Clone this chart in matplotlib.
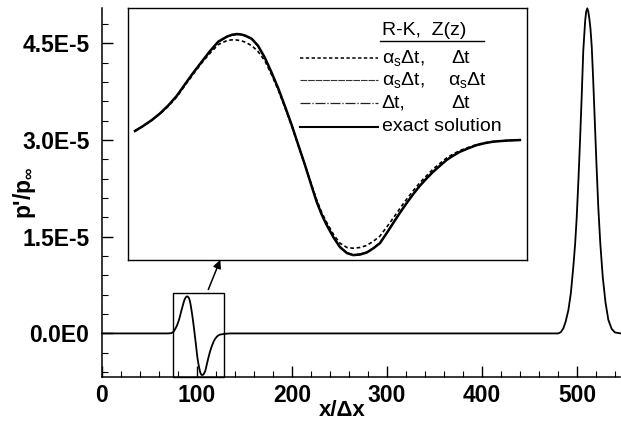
import matplotlib
matplotlib.use("Agg")
import matplotlib.pyplot as plt
from matplotlib.patches import Rectangle
from matplotlib.ticker import MultipleLocator, FixedLocator

plt.rcParams['font.family'] = ['Liberation Sans', 'DejaVu Sans']
plt.rcParams['mathtext.fontset'] = 'custom'
plt.rcParams['mathtext.rm'] = 'Liberation Sans'
plt.rcParams['mathtext.it'] = 'Liberation Sans'
plt.rcParams['mathtext.bf'] = 'Liberation Sans:bold'

SCALE = 1e-5

# ---- data (p'/p_inf values in units of 1e-5) ----
wave_x = [75.90, 77.0, 78.14, 79.25, 80.36, 81.5, 82.60, 83.7, 84.84, 85.95,
          87.06, 88.23, 88.9, 89.53, 90.1, 90.64, 91.54, 92.38, 93.32, 94.2,
          95.10, 96.0, 96.90, 97.8, 98.68, 99.5, 100.25, 100.9, 101.59, 102.5,
          103.37, 104.30, 105.15, 106.05, 106.95, 107.80, 108.73, 109.6, 110.51, 111.4,
          112.31, 113.2, 114.09, 115.0, 115.87, 116.8, 117.67, 118.55, 119.45, 120.6,
          121.69, 122.8, 123.91, 125.7, 127.49]
exact_wave = [0.039, 0.067, 0.099, 0.136, 0.180, 0.233, 0.297, 0.360, 0.421, 0.480,
              0.532, 0.560, 0.570, 0.574, 0.572, 0.566, 0.548, 0.510, 0.442, 0.362,
              0.274, 0.175, 0.072, -0.040, -0.149, -0.256, -0.352, -0.420, -0.480, -0.548,
              -0.602, -0.635, -0.646, -0.643, -0.632, -0.610, -0.580, -0.527, -0.469, -0.413,
              -0.359, -0.309, -0.263, -0.222, -0.186, -0.152, -0.121, -0.097, -0.076, -0.056,
              -0.039, -0.028, -0.020, -0.014, -0.011]
rk_as_z_dt = [0.039, 0.066, 0.097, 0.133, 0.175, 0.227, 0.290, 0.352, 0.414, 0.468,
              0.516, 0.538, 0.542, 0.541, 0.537, 0.530, 0.510, 0.478, 0.425, 0.350,
              0.265, 0.168, 0.066, -0.043, -0.149, -0.250, -0.342, -0.408, -0.466, -0.532,
              -0.580, -0.604, -0.608, -0.604, -0.593, -0.571, -0.541, -0.493, -0.442, -0.389,
              -0.337, -0.290, -0.246, -0.207, -0.171, -0.139, -0.110, -0.088, -0.069, -0.051,
              -0.036, -0.026, -0.019, -0.014, -0.011]
rk_as_z_as = [0.039, 0.067, 0.099, 0.136, 0.180, 0.233, 0.297, 0.360, 0.421, 0.480,
              0.531, 0.559, 0.568, 0.572, 0.570, 0.564, 0.547, 0.509, 0.441, 0.361,
              0.274, 0.175, 0.072, -0.040, -0.149, -0.255, -0.351, -0.419, -0.479, -0.547,
              -0.600, -0.633, -0.644, -0.641, -0.630, -0.609, -0.579, -0.526, -0.468, -0.412,
              -0.358, -0.308, -0.262, -0.222, -0.186, -0.152, -0.121, -0.097, -0.076, -0.056,
              -0.039, -0.028, -0.020, -0.014, -0.011]
rk_dt_z_dt = [0.039, 0.067, 0.099, 0.136, 0.179, 0.232, 0.296, 0.359, 0.420, 0.479,
              0.530, 0.558, 0.567, 0.571, 0.569, 0.563, 0.546, 0.508, 0.440, 0.360,
              0.273, 0.174, 0.071, -0.041, -0.149, -0.255, -0.350, -0.418, -0.478, -0.546,
              -0.599, -0.632, -0.643, -0.640, -0.629, -0.608, -0.578, -0.525, -0.467, -0.411,
              -0.357, -0.308, -0.262, -0.221, -0.185, -0.151, -0.120, -0.096, -0.075, -0.056,
              -0.039, -0.028, -0.020, -0.014, -0.011]

pre_x = [0, 70, 73, 74.8]
pre_v = [0, 0, 0.005, 0.02]
mid_x = [131, 135, 480.3]
mid_v = [-0.004, 0, 0]
peak_x = [483.0, 485.6, 488.0, 490.9, 493.5, 496.1, 498.0, 499.7, 501.5, 503.2,
          505.0, 506.6, 508.6, 509.7, 510.8, 511.9, 513.0, 514.2, 515.5, 517.0,
          519.0, 520.5, 522.4, 524.5, 527.1, 530.0, 533.0, 536.5, 540.0, 546.0]
peak_v = [0.02, 0.077, 0.18, 0.36, 0.62, 1.03, 1.38, 1.80, 2.38, 2.99,
          3.70, 4.38, 4.85, 4.99, 5.04, 4.99, 4.88, 4.72, 4.45, 3.95,
          3.19, 2.62, 1.96, 1.40, 0.875, 0.48, 0.21, 0.07, 0.015, 0.0]

yticks = [0.0, 1.5, 3.0, 4.5]
yticklabels = ["0.0E0", "1.5E-5", "3.0E-5", "4.5E-5"]
xticks = [0, 100, 200, 300, 400, 500]

legend_rows = [("α$_\\mathrm{s}$Δt,", "Δt"),
               ("α$_\\mathrm{s}$Δt,", "α$_\\mathrm{s}$Δt"),
               ("Δt,", "Δt"),
               ("exact solution", "")]

full_x = pre_x + wave_x + mid_x + peak_x
full_v = pre_v + exact_wave + mid_v + peak_v

# ---- figure ----
W, H = 621, 423
fig = plt.figure(figsize=(W / 100, H / 100), dpi=100)

xmin, xmax = 0, 545
ymin, ymax = -0.671, 5.045
ax = fig.add_axes([102 / W, 46.3 / H, 0.95 * xmax / W, 368.7 / H])
ax.plot(full_x, [v * SCALE for v in full_v], color='black', lw=1.3, clip_on=False)
ax.set_xlim(xmin, xmax)
ax.set_ylim(ymin * SCALE, ymax * SCALE)
for s in ['top', 'right']:
    ax.spines[s].set_visible(False)
for s in ['left', 'bottom']:
    ax.spines[s].set_linewidth(1.1)
ax.set_xticks(xticks)
ax.set_yticks([t * SCALE for t in yticks])
ax.set_yticklabels(yticklabels)
ax.xaxis.set_minor_locator(MultipleLocator(20))
ax.yaxis.set_minor_locator(FixedLocator([v * 0.3 * SCALE for v in range(-2, 17)]))
ax.tick_params(which='major', direction='in', length=8, width=1.0, labelsize=16.5, pad=5)
ax.tick_params(axis='y', which='major', pad=9)
ax.tick_params(which='minor', direction='in', length=4, width=0.8)
for lab in ax.get_xticklabels() + ax.get_yticklabels():
    lab.set_fontweight('bold')

fig.text(342 / W, 1 - 410 / H, "x/Δx", fontsize=16, fontweight='bold',
         ha='center', va='center')
fig.text(24 / W, 1 - 193 / H, "p'/p$_\\mathbf{∞}$", fontsize=16.5, fontweight='bold',
         ha='center', va='center', rotation=90)

# zoom box + arrow
ax.add_patch(Rectangle((75, ymin * SCALE), 128.4 - 75, (0.628 - ymin) * SCALE,
                       fill=False, lw=1.0, ec='black', clip_on=False))
ax.annotate("", xy=(124.5, 1.14 * SCALE), xytext=(111.9, 0.68 * SCALE),
            arrowprops=dict(arrowstyle='-|>', color='black', lw=1.1,
                            mutation_scale=12, shrinkA=0, shrinkB=0))

# ---- inset ----
axi = fig.add_axes([128.3 / W, (H - 260) / H, 398.4 / W, 251.7 / H])
axi.set_xlim(75, 128.4)
axi.set_ylim(-0.673 * SCALE, 0.716 * SCALE)
axi.plot(wave_x, [v * SCALE for v in rk_as_z_dt], color='black', lw=1.2, ls=(0, (2.2, 1.6)))
axi.plot(wave_x, [v * SCALE for v in rk_as_z_as], color='#333333', lw=0.8, ls=(0, (6, 0.8)))
axi.plot(wave_x, [v * SCALE for v in rk_dt_z_dt], color='#222222', lw=0.9, ls=(0, (8, 1.5, 1, 1.5)))
axi.plot(wave_x, [v * SCALE for v in exact_wave], color='black', lw=1.8)
axi.set_xticks([])
axi.set_yticks([])
for s in axi.spines.values():
    s.set_linewidth(1.0)

# manual legend
styles = [dict(color='black', lw=1.1, ls=(0, (2.2, 1.6))),
          dict(color='#333333', lw=0.8, ls=(0, (6, 0.8))),
          dict(color='#222222', lw=0.9, ls=(0, (8, 1.5, 1, 1.5))),
          dict(color='black', lw=1.5, ls='-')]
rows_y = [0.801, 0.715, 0.622, 0.529]
fs_leg = 14
axi.text(0.636, 0.912, "R-K,  Z(z)", transform=axi.transAxes, fontsize=fs_leg,
         ha='left', va='center')
axi.plot([0.633, 0.892], [0.872, 0.872], transform=axi.transAxes, color='black', lw=1.0)
for (c1, c2), yy, st in zip(legend_rows, rows_y, styles):
    axi.plot([0.432, 0.628], [yy, yy], transform=axi.transAxes, **st)
    axi.text(0.636, yy, c1, transform=axi.transAxes, fontsize=fs_leg, ha='left', va='center')
    if c2:
        xx = 0.812 if c2 == "Δt" else 0.802
        axi.text(xx, yy, c2, transform=axi.transAxes, fontsize=fs_leg, ha='left', va='center')

fig.savefig("out.png", dpi=100)
